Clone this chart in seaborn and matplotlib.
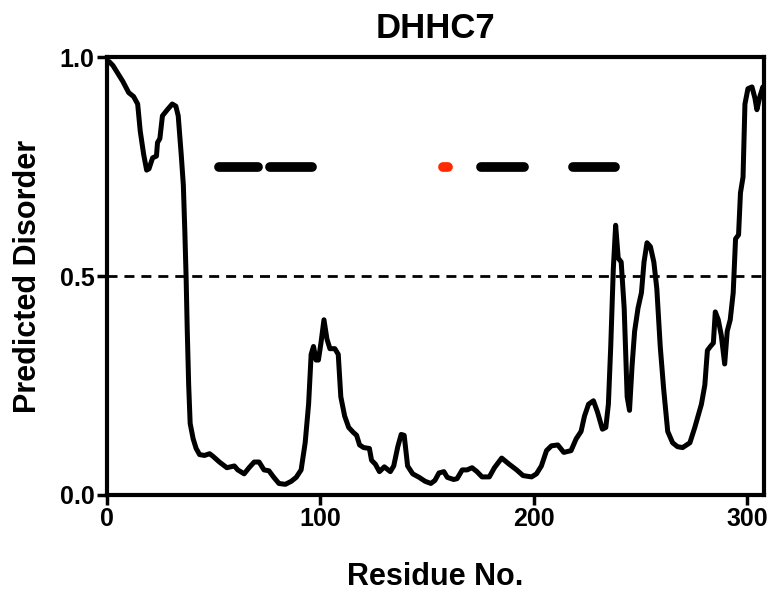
import numpy as np
import pandas as pd
import matplotlib
matplotlib.use("Agg")
import matplotlib.pyplot as plt
import seaborn as sns

# predicted disorder profile
residue = [0, 1, 2.8, 5.1, 7.4, 10.2, 12.5, 14.4, 15.6, 17.2, 18.6, 19.7, 21.4, 23.2, 23.7,
           24.8, 26.0, 28.3, 30.6, 32.3, 33.4, 34.8, 35.8, 36.5, 37.1, 37.6, 38.3, 39.0,
           40.4, 41.8, 43.4, 45.7, 48.1, 49.7, 52.7, 56.2, 59.7, 61.3, 64.3, 66.6, 69.0,
           71.3, 73.6, 75.9, 78.2, 80.6, 83.6, 86.4, 88.7, 91.0, 92.9, 94.5, 95.7, 96.8,
           98.0, 99.1, 100.3, 101.7, 103.1, 104.5, 106.8, 108.4, 109.6, 111.4, 113.3,
           115.4, 117.0, 118.4, 120.3, 123.0, 124.0, 125.8, 127.7, 130.0, 132.8, 134.4,
           136.3, 137.9, 139.3, 140.9, 143.3, 146.3, 149.1, 151.8, 153.7, 155.6, 157.9,
           159.5, 162.5, 164.1, 166.5, 168.8, 171.1, 173.4, 175.8, 179.2, 181.6, 185.0,
           188.5, 192.0, 195.0, 199.0, 201.3, 203.6, 206.0, 208.3, 211.3, 214.1, 217.5,
           219.9, 222.2, 223.8, 225.7, 228.0, 229.9, 232.2, 233.8, 235.0, 236.1, 237.3,
           238.4, 239.6, 241.0, 242.4, 243.8, 244.9, 246.1, 247.3, 248.9, 250.5, 251.7,
           253.1, 254.7, 256.3, 257.7, 259.3, 260.9, 262.8, 265.1, 267.4, 269.8, 273.2,
           275.5, 278.6, 280.2, 281.4, 282.8, 284.2, 285.1, 286.5, 287.9, 289.5, 290.7,
           292.1, 293.5, 294.6, 296.0, 296.9, 298.1, 299.0, 300.4, 302.3, 303.7, 304.6,
           306.0, 307.4, 308.0]
disorder = [0.99, 0.99, 0.981, 0.963, 0.945, 0.919, 0.910, 0.893, 0.831, 0.778, 0.742, 0.745,
            0.770, 0.774, 0.805, 0.814, 0.866, 0.880, 0.893, 0.888, 0.866, 0.778, 0.708,
            0.602, 0.497, 0.383, 0.251, 0.163, 0.128, 0.106, 0.092, 0.090, 0.094, 0.088,
            0.075, 0.062, 0.066, 0.057, 0.048, 0.062, 0.075, 0.075, 0.057, 0.055, 0.040,
            0.026, 0.024, 0.031, 0.040, 0.057, 0.119, 0.207, 0.321, 0.339, 0.308, 0.308,
            0.347, 0.400, 0.356, 0.334, 0.334, 0.321, 0.224, 0.180, 0.154, 0.143, 0.136,
            0.114, 0.108, 0.106, 0.079, 0.070, 0.053, 0.064, 0.053, 0.066, 0.110, 0.138,
            0.136, 0.066, 0.048, 0.040, 0.031, 0.026, 0.033, 0.050, 0.053, 0.040, 0.035,
            0.037, 0.057, 0.057, 0.062, 0.053, 0.041, 0.041, 0.062, 0.084, 0.070, 0.057,
            0.044, 0.041, 0.048, 0.066, 0.101, 0.112, 0.114, 0.097, 0.101, 0.128, 0.145,
            0.180, 0.207, 0.215, 0.189, 0.150, 0.154, 0.207, 0.339, 0.515, 0.616, 0.541,
            0.532, 0.427, 0.224, 0.193, 0.295, 0.374, 0.427, 0.462, 0.532, 0.576, 0.567,
            0.532, 0.471, 0.339, 0.242, 0.145, 0.119, 0.110, 0.108, 0.119, 0.154, 0.207,
            0.251, 0.330, 0.339, 0.347, 0.418, 0.400, 0.365, 0.299, 0.374, 0.400, 0.462,
            0.585, 0.594, 0.690, 0.726, 0.893, 0.928, 0.932, 0.906, 0.880, 0.910, 0.932,
            0.919]

# domain segments drawn at 0.75
seg_start = [52.5, 76.5, 157.5, 175.5, 218.5]
seg_end = [71.0, 96.0, 160.0, 195.5, 238.0]
seg_color = ["black", "black", "#ff2a00", "black", "black"]
seg_level = 0.75
threshold = 0.5

df = pd.DataFrame({"Residue": residue, "Disorder": disorder})

sns.set_style("ticks")
plt.rcParams["font.family"] = ["Liberation Sans", "DejaVu Sans"]
plt.rcParams["font.weight"] = "bold"
plt.rcParams["text.color"] = "black"
plt.rcParams["axes.labelcolor"] = "black"

fig = plt.figure(figsize=(7.75, 6.02), dpi=100)
ax = fig.add_axes([0.138, 0.178, 0.848, 0.727])

sns.lineplot(data=df, x="Residue", y="Disorder", color="black", lw=3.6, ax=ax)
ax.axhline(threshold, color="black", lw=2.0, ls=(0, (3.6, 2.5)))

for s, e, c in zip(seg_start, seg_end, seg_color):
    ax.plot([s, e], [seg_level, seg_level], color=c, lw=7, solid_capstyle="round")

ax.set_xlim(0, 308)
ax.set_ylim(0, 1.0)
ax.set_xticks([0, 100, 200, 300])
ax.set_yticks([0.0, 0.5, 1.0])
ax.set_yticklabels(["0.0", "0.5", "1.0"])

for sp in ax.spines.values():
    sp.set_linewidth(3.0)
    sp.set_color("black")
ax.tick_params(width=2.5, length=7, labelsize=18, pad=2, colors="black")
for lab in ax.get_xticklabels() + ax.get_yticklabels():
    lab.set_fontweight("bold")

ax.set_title("DHHC7", fontsize=25, fontweight="bold", pad=14, color="black")
ax.set_xlabel("Residue No.", fontsize=22, fontweight="bold", labelpad=22)
ax.set_ylabel("Predicted Disorder", fontsize=22, fontweight="bold", labelpad=12)

fig.savefig("out.png", dpi=100)
